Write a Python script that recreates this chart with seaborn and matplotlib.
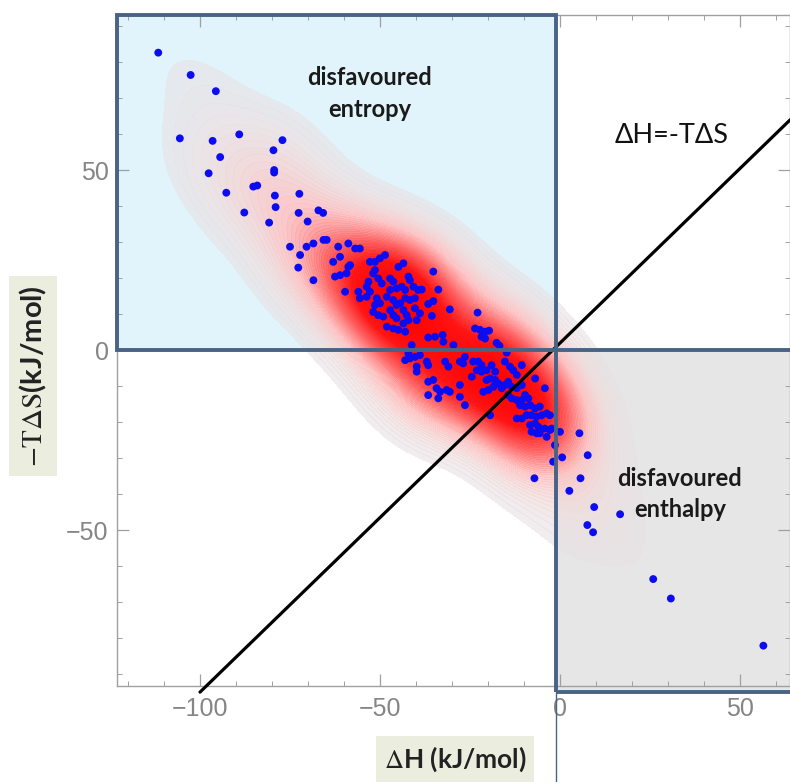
import numpy as np
import pandas as pd
import matplotlib
matplotlib.use("Agg")
import matplotlib.pyplot as plt
import seaborn as sns
from matplotlib.colors import LinearSegmentedColormap
from matplotlib.patches import Rectangle
from matplotlib.ticker import MultipleLocator

# ---- data (kJ/mol) ----
dH = [-111.6, -102.6, -95.6, -105.6, -96.5, -89.1, -77.1, -79.6, -94.4, -79.4,
      -79.4, -97.6, -85.2, -84.1, -92.7, -79.2, -72.4, -79.0, -87.7, -72.6,
      -67.1, -65.8, -80.8, -70.1,
      -75.0, -72.2, -70.4, -68.5, -65.7, -64.8, -72.7, -68.5, -61.6, -63.0,
      -61.1, -62.5, -61.1, -59.3, -58.8, -58.3, -58.8, -56.9, -55.6, -59.7,
      -56.0, -55.6, -52.8, -51.4, -50.0, -48.6, -44.9, -43.5, -51.4, -51.9,
      -53.2, -53.7, -50.5, -49.5, -47.2, -46.3, -42.1, -41.7, -52.8, -53.7,
      -50.9, -51.4, -50.0, -47.2, -48.1, -45.4, -44.0, -43.0, -40.7, -39.4,
      -46.3, -45.4, -44.4, -43.0, -41.7, -40.3, -51.9, -50.5, -49.1, -47.2,
      -46.3, -45.4, -43.5, -42.6, -42.1, -43.5, -40.3, -38.9, -39.8, -48.1,
      -46.3, -44.9,
      -35.2, -38.4, -33.8, -35.2, -36.6, -30.6, -35.6, -22.9, -23.6, -22.2,
      -20.8, -19.7, -21.8, -20.8, -17.6, -36.6, -34.7, -32.6, -32.4, -29.6,
      -43.0, -41.2, -42.1, -43.0, -41.7, -40.3, -38.9, -37.0, -36.6, -39.8,
      -39.8, -31.9, -31.0, -36.6, -35.2, -34.3, -33.3, -33.8, -36.6, -31.5,
      -16.8, -14.8, -10.6, -27.8, -26.4, -26.9, -24.1, -22.7, -21.8, -23.1,
      -21.8, -20.4, -19.0, -18.0, -15.3, -13.9, -13.0, -12.0, -24.5, -20.4,
      -19.4, -18.0, -17.1, -18.5, -16.2, -15.3, -14.4, -13.4, -12.0, -10.6,
      -6.9, -4.2, -27.8, -30.6, -21.3, -19.9, -27.8, -26.4, -14.4, -13.4,
      -12.0, -10.6, -9.7, -8.8, -11.1, -9.7, -8.3, -6.9, -5.6, -19.4,
      -12.0, -10.6, -9.3, -7.9, -6.5, -5.1, -3.7, -2.8, -8.3, -6.9,
      -6.0, -5.6, -4.2, -2.8, -7.9, -6.5, -5.6, -3.7, -2.3, -1.4,
      0.0, 5.4, -1.9, 0.6, 7.7, -7.1, 5.7, 2.6, 9.5, 16.7,
      7.6, 9.2, 25.9, 30.8, 56.5]
mTdS = [82.6, 76.4, 71.9, 58.8, 58.1, 59.9, 58.3, 55.5, 53.6, 50.0,
        49.3, 49.1, 45.4, 45.7, 43.7, 42.9, 43.4, 39.7, 38.2, 38.1,
        38.8, 38.1, 35.4, 35.7,
        28.7, 26.4, 28.7, 29.6, 30.6, 30.6, 22.9, 19.4, 28.7, 24.5,
        25.9, 20.4, 20.8, 21.3, 23.1, 23.6, 29.6, 28.2, 28.2, 16.2,
        16.2, 14.4, 24.5, 24.5, 25.5, 26.4, 23.1, 24.1, 22.2, 21.3,
        19.0, 17.6, 19.9, 18.5, 19.9, 19.0, 20.4, 19.4, 16.2, 14.8,
        14.4, 12.5, 13.0, 16.7, 14.8, 17.1, 17.6, 16.7, 17.6, 16.7,
        13.9, 12.5, 13.0, 14.4, 13.9, 14.4, 10.6, 9.7, 9.3, 11.1,
        9.7, 8.8, 11.1, 9.7, 8.3, 7.4, 11.6, 10.2, 8.3, 6.5,
        6.0, 5.6,
        21.8, 16.8, 16.8, 13.6, 12.8, 11.3, 9.5, 10.4, 6.0, 5.6,
        5.1, 5.4, 3.7, 3.2, 2.0, 3.5, 3.7, 4.2, 2.3, 1.4,
        5.1, 1.4, -0.9, -2.8, -2.3, -1.9, -1.4, -3.2, -4.2, -4.6,
        -6.0, -3.2, -4.6, -8.8, -8.3, -10.6, -11.6, -13.4, -12.5, -11.1,
        1.2, -0.7, -4.2, -3.2, -1.9, -3.7, -3.2, -3.2, -4.2, -5.6,
        -6.0, -5.6, -4.2, -6.0, -3.2, -4.6, -5.6, -6.9, -7.4, -8.3,
        -7.9, -8.3, -9.3, -10.2, -10.6, -9.7, -8.8, -10.2, -10.6, -9.7,
        -7.9, -10.6, -9.7, -11.6, -11.6, -11.1, -13.0, -15.3, -12.5, -13.4,
        -13.9, -13.9, -12.5, -13.4, -15.3, -15.7, -15.3, -16.2, -15.7, -18.1,
        -19.0, -19.0, -18.1, -18.1, -18.5, -18.1, -17.6, -18.1, -20.8, -20.4,
        -21.3, -22.2, -21.8, -22.2, -22.7, -23.1, -23.1, -24.1, -21.8, -26.4,
        -22.7, -23.1, -31.0, -29.8, -29.2, -35.6, -35.6, -39.1, -43.6, -45.6,
        -48.6, -50.6, -63.6, -69.0, -82.1]

x_ticks = [-100, -50, 0, 50]
y_ticks = [-50, 0, 50]
line_dH = [-100, 64]        # "ΔH = -TΔS" guide line end points
line_mTdS = [-95, 64]

df = pd.DataFrame({"dH": dH, "mTdS": mTdS})

sns.set_theme(style="ticks")
plt.rcParams['font.family'] = ['Liberation Sans', 'DejaVu Sans']
plt.rcParams['mathtext.fontset'] = 'stix'

fig = plt.figure(figsize=(7.9, 7.82), dpi=100)
ax = fig.add_axes([117/790, 96/782, 673/790, 671/782])
XL = (-123.06, 63.9)
YL = (-93.3, 93.06)
xq = -1.1  # quadrant split drawn in the picture

edge = '#486386'
# quadrant fills
ax.add_patch(Rectangle((XL[0], 0), xq - XL[0], YL[1], facecolor='#e1f3fb',
                       edgecolor='none', zorder=0.5))
ax.add_patch(Rectangle((xq, -95), 80, 95, facecolor='#e6e6e6',
                       edgecolor='none', zorder=0.5, clip_on=False))

# smooth density (per-axis Gaussian kernel, like a smooth density histogram)
h = 10.0
gx = np.linspace(XL[0], XL[1], 320)
gy = np.linspace(YL[0], YL[1], 320)
GX, GY = np.meshgrid(gx, gy)
px = df["dH"].to_numpy()[:, None, None]
py = df["mTdS"].to_numpy()[:, None, None]
dens = np.exp(-((GX - px) ** 2 + (GY - py) ** 2) / (2 * h * h)).sum(axis=0)
dens /= dens.max()

cmap = LinearSegmentedColormap.from_list('dens', [
    (0.0, (0.91, 0.89, 0.90, 0.60)),
    (0.08, (0.94, 0.87, 0.87, 0.70)),
    (0.24, (1.0, 0.76, 0.76, 0.82)),
    (0.47, (1.0, 0.40, 0.40, 0.95)),
    (0.72, (1.0, 0.08, 0.08, 1.0)),
    (1.0, (1.0, 0.0, 0.0, 1.0))])
ax.contourf(GX, GY, dens, levels=np.linspace(0.045, 1.0001, 60), cmap=cmap,
            antialiased=False, zorder=1)

sns.scatterplot(data=df, x="dH", y="mTdS", color='#0c0cf2', s=32,
                edgecolor='none', linewidth=0, ax=ax, zorder=3)

ax.plot(line_dH, line_mTdS, color='black', lw=2.3, zorder=4, clip_on=False)

ax.add_patch(Rectangle((XL[0], 0), xq - XL[0], YL[1], fill=False,
                       edgecolor=edge, lw=2.8, zorder=5, clip_on=False))
ax.add_patch(Rectangle((xq, -95), 80, 95, fill=False,
                       edgecolor=edge, lw=2.8, zorder=5, clip_on=False))
ax.plot([xq, xq], [-95, -125], color=edge, lw=1.0, zorder=5, clip_on=False)

ax.set_xlim(*XL)
ax.set_ylim(*YL)
ax.set_xticks(x_ticks)
ax.set_yticks(y_ticks)
ax.xaxis.set_minor_locator(MultipleLocator(10))
ax.yaxis.set_minor_locator(MultipleLocator(10))
ax.tick_params(which='both', direction='in', top=True, right=True,
               colors='#a0a0a0', labelcolor='#858585', labelsize=18)
ax.tick_params(which='major', length=8.5, width=0.9)
ax.tick_params(which='minor', length=3.5, width=0.7)
ax.tick_params(axis='x', pad=8)
ax.tick_params(axis='y', pad=6)
for s in ax.spines.values():
    s.set_color('#a0a0a0')
    s.set_linewidth(1.0)
ax.set_xlabel('')
ax.set_ylabel('')

ax.text(-52.9, 71.3, "disfavoured\nentropy", ha='center', va='center',
        fontsize=17, fontweight='bold', family='Lato', color='#1a1a1a',
        linespacing=1.45, zorder=6)
ax.text(33.3, -40.0, "disfavoured\nenthalpy", ha='center', va='center',
        fontsize=17, fontweight='bold', family='Lato', color='#1a1a1a',
        linespacing=1.45, zorder=6)
ax.text(31.1, 59.7, "ΔH=-TΔS", ha='center', va='center', fontsize=19.5,
        family='Lato', color='#111111', zorder=6)

box = dict(boxstyle='square,pad=0.3', facecolor='#ebeedf', edgecolor='none')
fig.text(33/790, 1 - 376/782, r"$-\mathrm{T}\Delta\mathrm{S}$(kJ/mol)",
         rotation=90, ha='center', va='center', fontsize=21,
         fontweight='bold', family='Lato', color='#222222', bbox=box)
fig.text(455/790, 1 - 759/782, r"$\Delta$H (kJ/mol)", ha='center',
         va='center', fontsize=19, fontweight='bold', family='Lato',
         color='#222222', bbox=box)

fig.savefig("out.png", dpi=100)
